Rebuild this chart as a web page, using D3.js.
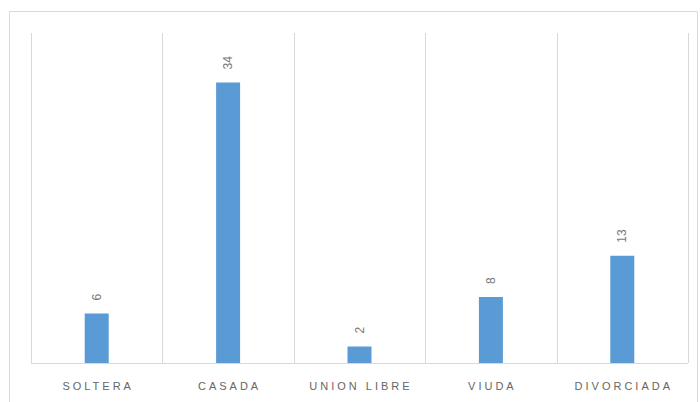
<!DOCTYPE html>
<html>
<head>
<meta charset="utf-8">
<script src="https://cdn.jsdelivr.net/npm/d3@7"></script>
<style>
  body { margin: 0; background: #fff; }
</style>
</head>
<body>
<svg width="700" height="402"></svg>
<script>
  var categories = ["SOLTERA", "CASADA", "UNION LIBRE", "VIUDA", "DIVORCIADA"];
  var values = [6, 34, 2, 8, 13];
  var yMax = 40;

  var svg = d3.select("svg");
  var margin = { left: 31, right: 12, top: 33, bottom: 39 };
  var width = 700, height = 402;

  // outer chart frame
  svg.append("path")
    .attr("d", "M9.5,402 V11.5 H697.5 V402")
    .attr("fill", "none")
    .attr("stroke", "#d9d9d9")
    .attr("stroke-width", 1);

  var x = d3.scaleBand().domain(categories)
    .range([margin.left, width - margin.right]);
  var y = d3.scaleLinear().domain([0, yMax])
    .range([height - margin.bottom, margin.top]);

  var g = svg.append("g");

  // vertical separators between categories
  var bounds = categories.map(function(c) { return x(c); });
  bounds.push(x.range()[1]);
  g.selectAll(".sep").data(bounds).enter().append("line")
    .attr("x1", function(d) { return Math.round(d) + 0.5; })
    .attr("x2", function(d) { return Math.round(d) + 0.5; })
    .attr("y1", y(yMax))
    .attr("y2", y(0))
    .attr("stroke", "#d9d9d9");

  // baseline
  g.append("line")
    .attr("x1", x.range()[0]).attr("x2", x.range()[1])
    .attr("y1", Math.round(y(0)) + 0.5).attr("y2", Math.round(y(0)) + 0.5)
    .attr("stroke", "#d9d9d9");

  var barW = 24;
  g.selectAll(".bar").data(values).enter().append("rect")
    .attr("x", function(d, i) { return x(categories[i]) + x.bandwidth() / 2 - barW / 2; })
    .attr("y", function(d) { return y(d); })
    .attr("width", barW)
    .attr("height", function(d) { return y(0) - y(d); })
    .attr("fill", "#5b9bd5");

  // rotated value labels
  g.selectAll(".val").data(values).enter().append("text")
    .attr("transform", function(d, i) {
      var cx = x(categories[i]) + x.bandwidth() / 2;
      return "translate(" + (cx + 4) + "," + (y(d) - 13) + ") rotate(-90)";
    })
    .attr("font-family", "Liberation Sans, Arial, sans-serif")
    .attr("font-size", "12px")
    .attr("fill", "#7a7a7a")
    .text(function(d) { return d; });

  // category labels
  g.selectAll(".cat").data(categories).enter().append("text")
    .attr("x", function(d) { return x(d) + x.bandwidth() / 2 + 1.5; })
    .attr("y", 390)
    .attr("text-anchor", "middle")
    .attr("font-family", "Liberation Sans, Arial, sans-serif")
    .attr("font-size", "11px")
    .attr("letter-spacing", "3px")
    .attr("fill", "#666666")
    .text(function(d) { return d; });
</script>
</body>
</html>
